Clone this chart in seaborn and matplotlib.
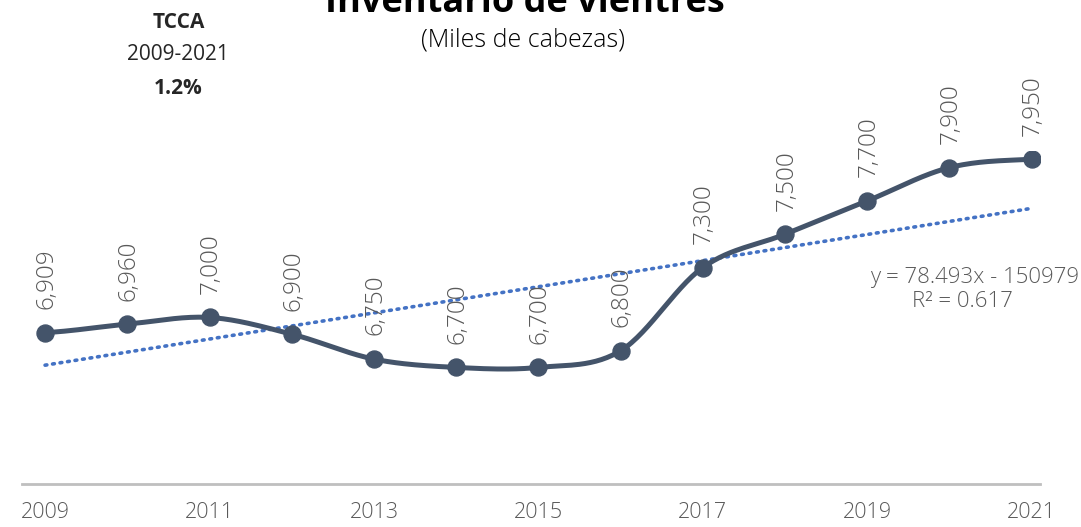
import numpy as np
import pandas as pd
import seaborn as sns
import matplotlib.pyplot as plt

# Inventario de vientres (miles de cabezas)
years = [2009, 2010, 2011, 2012, 2013, 2014, 2015, 2016, 2017, 2018, 2019, 2020, 2021]
values = [6909, 6960, 7000, 6900, 6750, 6700, 6700, 6800, 7300, 7500, 7700, 7900, 7950]
tick_years = [2009, 2011, 2013, 2015, 2017, 2019, 2021]

# trendline as printed on the chart
trend_slope = 78.493
trend_intercept = -150979
trend_r2 = 0.617

line_color = "#44546A"
trend_color = "#4472C4"
gray = "#595959"

sns.set_style("white")
plt.rcParams["font.family"] = ["Open Sans", "DejaVu Sans"]


# smoothed line like excel (catmull-rom between the points)
def smooth(xs, ys, n=30):
    xs = np.asarray(xs, dtype=float)
    ys = np.asarray(ys, dtype=float)
    px = np.concatenate([[2 * xs[0] - xs[1]], xs, [2 * xs[-1] - xs[-2]]])
    py = np.concatenate([[ys[0]], ys, [ys[-1]]])
    out_x, out_y = [], []
    for i in range(1, len(px) - 2):
        t = np.linspace(0, 1, n, endpoint=False)
        for arr, out in ((px, out_x), (py, out_y)):
            p0, p1, p2, p3 = arr[i - 1], arr[i], arr[i + 1], arr[i + 2]
            out.extend(0.5 * ((2 * p1) + (-p0 + p2) * t + (2 * p0 - 5 * p1 + 4 * p2 - p3) * t ** 2
                              + (-p0 + 3 * p1 - 3 * p2 + p3) * t ** 3))
    out_x.append(xs[-1])
    out_y.append(ys[-1])
    return np.array(out_x), np.array(out_y)


df = pd.DataFrame({"year": years, "value": values})
sx, sy = smooth(years, values)
smooth_df = pd.DataFrame({"year": sx, "value": sy})
trend_df = pd.DataFrame({"year": [years[0], years[-1]]})
trend_df["value"] = trend_slope * trend_df["year"] + trend_intercept

fig = plt.figure(figsize=(10.81, 5.27), dpi=100)
ax = fig.add_axes([0.0204, 0.0816, 0.9416, 0.632])

sns.lineplot(data=trend_df, x="year", y="value", ax=ax, color=trend_color,
             linestyle=(0, (0.5, 1.6)), linewidth=2.6, dash_capstyle="round")
sns.lineplot(data=smooth_df, x="year", y="value", ax=ax, color=line_color, linewidth=3.6,
             sort=False, estimator=None)
sns.scatterplot(data=df, x="year", y="value", ax=ax, color=line_color, s=150,
                edgecolor=line_color, zorder=5)

for x, v in zip(years, values):
    ax.annotate(f"{v:,}", (x, v), xytext=(1, 17), textcoords="offset points",
                rotation=90, ha="center", va="bottom", fontsize=17.5, color=gray,
                fontweight="light", annotation_clip=False)

fig.text(0.998, 0.474, f"y = {trend_slope:.3f}x - {abs(trend_intercept)}", ha="right",
         va="center", fontsize=16, color=gray, fontweight="light")
fig.text(0.89, 0.427, f"R² = {trend_r2:.3f}", ha="center", va="center", fontsize=16,
         color=gray, fontweight="light")

ax.set_xlim(2008.72, 2021.1)
ax.set_ylim(6000, 8000)
ax.set_xticks(tick_years)
ax.set_xticklabels([str(y) for y in tick_years], fontsize=15.5, color=gray, fontweight="light")
ax.tick_params(axis="x", length=0, pad=13)
ax.set_yticks([])
ax.set_xlabel("")
ax.set_ylabel("")
for side in ["top", "left", "right"]:
    ax.spines[side].set_visible(False)
ax.spines["bottom"].set_color("#BFBFBF")
ax.spines["bottom"].set_linewidth(2)

fig.text(0.486, 0.978, "Inventario de vientres", ha="center", va="baseline",
         fontsize=26, fontweight="bold", color="black")
fig.text(0.484, 0.925, "(Miles de cabezas)", ha="center", va="center",
         fontsize=18, color="black", fontweight="light")

fig.text(0.165, 0.958, "TCCA", ha="center", va="center", fontsize=15, fontweight="bold")
fig.text(0.165, 0.896, "2009-2021", ha="center", va="center", fontsize=15)
fig.text(0.165, 0.833, "1.2%", ha="center", va="center", fontsize=15, fontweight="bold")

plt.savefig("out.png", dpi=100)
